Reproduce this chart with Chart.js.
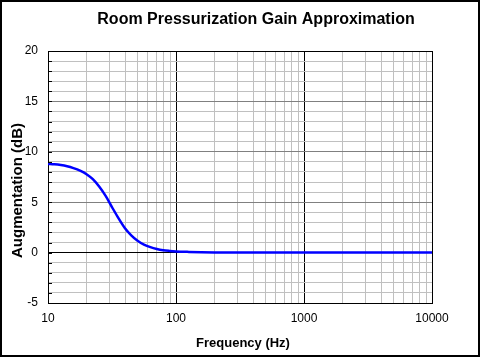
<!DOCTYPE html>
<html>
<head>
<meta charset="utf-8">
<script src="https://cdn.jsdelivr.net/npm/chart.js@4/dist/chart.umd.min.js"></script>
<style>
  html, body { margin: 0; padding: 0; background: #fff; }
  #wrap { width: 481px; height: 358px; position: relative; }
</style>
</head>
<body>
<div id="wrap"><canvas id="c" width="481" height="358"></canvas></div>
<script>
const chartTitle = "Room Pressurization Gain Approximation";
const xTitle = "Frequency (Hz)";
const yTitle = "Augmentation (dB)";

const frequencies = [10, 11.2, 12.6, 14.1, 15.8, 17.8, 20, 22.4, 25.1, 28.2, 31.6, 35.5, 39.8, 44.7, 50.1, 56.2, 63.1, 70.8, 79.4, 89.1, 100, 126, 158, 200, 316, 1000, 10000];
const gainDb      = [8.8, 8.76, 8.68, 8.56, 8.38, 8.13, 7.78, 7.28, 6.55, 5.62, 4.52, 3.42, 2.45, 1.72, 1.18, 0.8, 0.54, 0.36, 0.24, 0.17, 0.12, 0.07, 0.04, 0.02, 0.01, 0, 0];

const xTickValues = [10,20,30,40,50,60,70,80,90,100,200,300,400,500,600,700,800,900,1000,2000,3000,4000,5000,6000,7000,8000,9000,10000];
const xTickLabels = ["10", "100", "1000", "10000"];
const yTickLabels = ["-5", "0", "5", "10", "15", "20"];

const FONT = "'Liberation Sans', Arial, sans-serif";

const decor = {
  id: 'decor',
  afterDraw(chart) {
    const ctx = chart.ctx;
    const y = chart.scales.y;
    const area = chart.chartArea;
    ctx.save();
    ctx.strokeStyle = '#000';
    ctx.lineWidth = 1;
    y.ticks.forEach(t => {
      const py = Math.round(y.getPixelForValue(t.value)) + 0.5;
      ctx.beginPath();
      ctx.moveTo(area.left, py);
      ctx.lineTo(area.left + 4, py);
      ctx.stroke();
    });
    ctx.fillStyle = '#000';
    ctx.textAlign = 'center';
    ctx.textBaseline = 'alphabetic';
    ctx.font = 'bold 16px ' + FONT;
    ctx.fillText(chartTitle, 256, 23.5);
    ctx.font = 'bold 13px ' + FONT;
    ctx.fillText(xTitle, 243, 347);
    ctx.save();
    ctx.translate(22, 190.5);
    ctx.rotate(-Math.PI / 2);
    ctx.font = 'bold 15px ' + FONT;
    ctx.fillText(yTitle, 0, 0);
    ctx.restore();
    ctx.lineWidth = 2;
    ctx.strokeStyle = '#000';
    ctx.strokeRect(1, 1, 478, 355);
    ctx.restore();
  }
};

new Chart(document.getElementById('c'), {
  type: 'line',
  data: {
    datasets: [{
      data: frequencies.map((f, i) => ({ x: f, y: gainDb[i] })),
      borderColor: '#0000ff',
      borderWidth: 2.5,
      pointRadius: 0,
      fill: false,
      cubicInterpolationMode: 'monotone'
    }]
  },
  options: {
    responsive: false,
    animation: false,
    devicePixelRatio: 1,
    layout: { padding: { left: 0, top: 51, right: 49, bottom: 0 } },
    plugins: { legend: { display: false }, title: { display: false }, tooltip: { enabled: false } },
    scales: {
      x: {
        type: 'logarithmic',
        min: 10, max: 10000,
        afterBuildTicks: s => { s.ticks = xTickValues.map(v => ({ value: v })); },
        afterFit: s => { s.height = 55; },
        ticks: {
          autoSkip: false, maxRotation: 0, padding: 8,
          color: '#000',
          font: { family: FONT, size: 12 },
          callback: v => { const l = String(v); return xTickLabels.includes(l) ? l : ''; }
        },
        grid: {
          drawTicks: false,
          color: c => (xTickLabels.includes(String(c.tick.value)) ? '#000000' : '#c0c0c0'),
          lineWidth: 1
        },
        border: { color: '#000', width: 1 }
      },
      y: {
        type: 'linear',
        min: -5, max: 20,
        afterFit: s => { s.width = 48; },
        ticks: {
          stepSize: 1, autoSkip: false, padding: 10,
          color: '#000',
          font: { family: FONT, size: 12 },
          callback: v => { const l = String(v); return yTickLabels.includes(l) ? l : ''; }
        },
        grid: {
          drawTicks: false,
          color: c => {
            const v = c.tick.value;
            if (v === 0 || v === 20 || v === -5) return '#000000';
            if (v % 5 === 0) return '#808080';
            return '#c0c0c0';
          },
          lineWidth: 1
        },
        border: { color: '#000', width: 1 }
      }
    }
  },
  plugins: [decor]
});
</script>
</body>
</html>
